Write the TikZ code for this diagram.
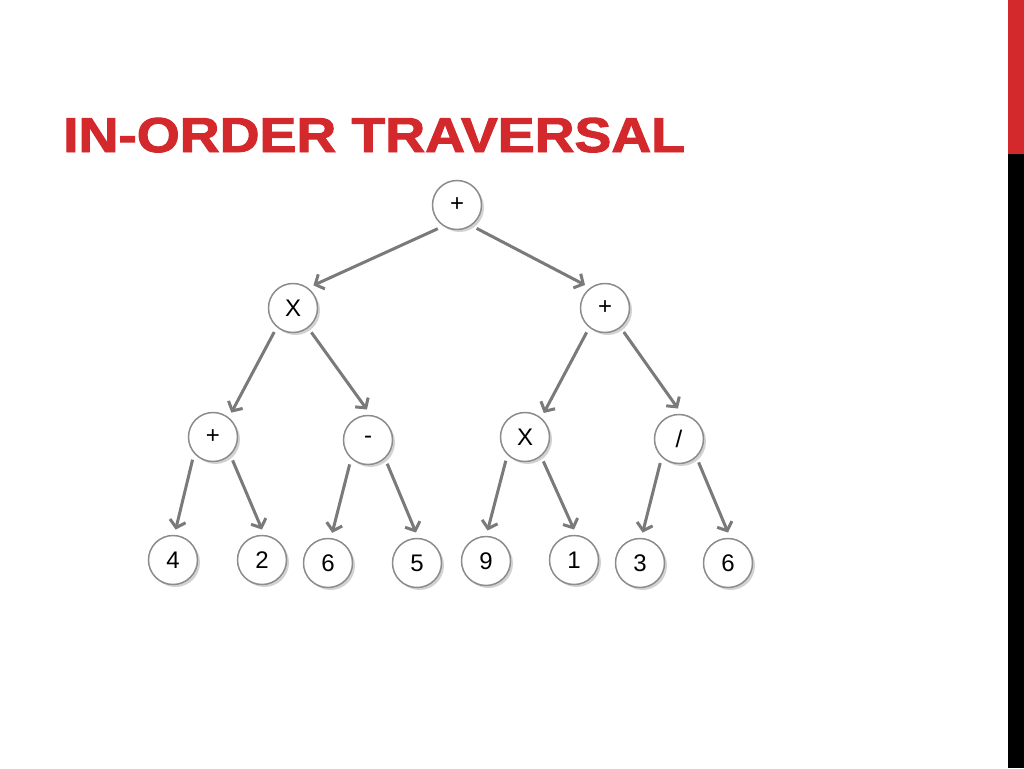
\documentclass[tikz,border=0pt]{standalone}
\usepackage{fontspec}
\setmainfont{Liberation Sans}
\newfontfamily\titlefont[FakeBold=2]{Liberation Sans Bold}
\usetikzlibrary{arrows.meta,shadows}
\definecolor{slidered}{RGB}{211,40,44}
\definecolor{edgegray}{RGB}{122,122,122}
\newcommand{\nodesize}{49pt}
\newcommand{\outers}{6pt}

\begin{document}
\begin{tikzpicture}[x=1pt,y=-1pt]
            %\draw[help lines] (0,0) grid[step=50] (1024,768);
            \tikzset{vertex/.style = {circle, draw=gray!90, line width=1.5pt, fill=white,
                minimum size=\nodesize, inner sep=0pt, outer sep=\outers,
                font=\fontsize{24}{24}\selectfont,
                drop shadow={shadow xshift=2.5pt, shadow yshift=-2.5pt, opacity=0.35, fill=gray}}}
            \tikzset{edge/.style = {draw=edgegray, line width=3pt,
                -{Straight Barb[length=7pt,width=16pt]}}}
            \fill[white] (0,0) rectangle (1024,768);
            \useasboundingbox (0,0) rectangle (1024,768);
            \fill[slidered] (1008,0) rectangle (1024,154);
            \fill[black] (1008,154) rectangle (1024,768);
            \node[anchor=base west, inner sep=0pt, text=slidered, xscale=1.127,
                font=\fontsize{49}{49}\titlefont] (title) at (63,152) {IN-ORDER TRAVERSAL};
            % operators
            \node[vertex] (root) at (457,205) {+};
            \node[vertex] (mulL) at (293,308) {X};
            \node[vertex] (addR) at (605,308) {+};
            \node[vertex] (addL) at (213,437) {+};
            \node[vertex] (sub) at (368,440) {-};
            \node[vertex] (mulR) at (525,437) {X};
            \node[vertex] (divd) at (679,439) {/};
            % operands
            \node[vertex] (a) at (173,560) {4};
            \node[vertex] (b) at (262,560) {2};
            \node[vertex] (c) at (328,563) {6};
            \node[vertex] (d) at (417,563) {5};
            \node[vertex] (e) at (486,561) {9};
            \node[vertex] (f) at (574,560) {1};
            \node[vertex] (g) at (640,563) {3};
            \node[vertex] (h) at (728,563) {6};
            \foreach \p/\c/\s/\e in {root/mulL/231/48, root/addR/310/131,
                mulL/addL/232/53, mulL/sub/307/92, addR/mulR/233/52, addR/divd/308/92,
                addL/a/228/85, addL/b/310/90, sub/c/233/82, sub/d/309/92,
                mulR/e/231/87, mulR/f/307/90, divd/g/232/85, divd/h/310/90}
                \draw[edge] (\p.\s) -- (\c.\e);
        \end{tikzpicture}
\end{document}
